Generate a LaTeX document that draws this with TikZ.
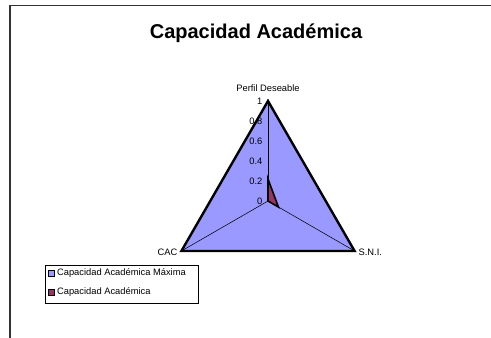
\documentclass[tikz,border=0pt]{standalone}
\usepackage{fontspec}
\setmainfont{Liberation Sans}
\definecolor{azulmax}{HTML}{9999FF}
\definecolor{moradoac}{HTML}{993366}

\begin{document}
\begin{tikzpicture}[x=0.75pt,y=-0.75pt,
	etiqueta/.style={font=\fontsize{7}{8}\selectfont, inner sep=1pt},
	marca/.style={draw=black, thin, minimum size=4.5pt, inner sep=0pt}]
	\useasboundingbox (0,0) rectangle (491,338);

	% marco
	\draw [black!80, line width=0.8pt] (10,338) -- (10,5.5) -- (491,5.5);
	% titulo
	\node (titulo) at (256,33) {\fontsize{15}{18}\selectfont\bfseries Capacidad Acad\'emica};

	% vertices
	\coordinate (centro) at (268,201);
	\coordinate (perfil) at (268,101);
	\coordinate (sni) at (354.6,251);
	\coordinate (cac) at (181.4,251);

	% serie maxima
	\fill [azulmax] (perfil) -- (sni) -- (cac) -- cycle;
	% ejes
	\draw [black, thin] (centro) -- (perfil);
	\draw [black, thin] (centro) -- (sni);
	\draw [black, thin] (centro) -- (cac);
	% label
	\node [etiqueta, anchor=east] (v0) at (264,201) {0};
	\node [etiqueta, anchor=east] (v2) at (264,181) {0.2};
	\node [etiqueta, anchor=east] (v4) at (264,161) {0.4};
	\node [etiqueta, anchor=east] (v6) at (264,141) {0.6};
	\node [etiqueta, anchor=east] (v8) at (264,121) {0.8};
	\node [etiqueta, anchor=east] (v10) at (264,101) {1};
	\draw [black, line width=1.8pt, line join=miter] (perfil) -- (sni) -- (cac) -- cycle;

	% serie academica
	\coordinate (ac1) at (268,179);
	\coordinate (ac2) at (278.4,207);
	\filldraw [fill=moradoac, draw=black, line width=1.2pt] (ac1) -- (ac2) -- (centro) -- cycle;

	% nombres de ejes
	\node [etiqueta, anchor=south] (nperfil) at (268,93) {Perfil Deseable};
	\node [etiqueta, anchor=west] (nsni) at (357,252) {S.N.I.};
	\node [etiqueta, anchor=east] (ncac) at (179,252) {CAC};

	% leyenda
	\draw [black, thin] (45,265) rectangle (198,303);
	\node [marca, fill=azulmax] (m1) at (51.3,273.5) {};
	\node [etiqueta, anchor=west] (l1) at (55.5,273.5) {Capacidad Acad\'emica M\'axima};
	\node [marca, fill=moradoac] (m2) at (51.3,292.5) {};
	\node [etiqueta, anchor=west] (l2) at (55.5,292.5) {Capacidad Acad\'emica};
\end{tikzpicture}
\end{document}
